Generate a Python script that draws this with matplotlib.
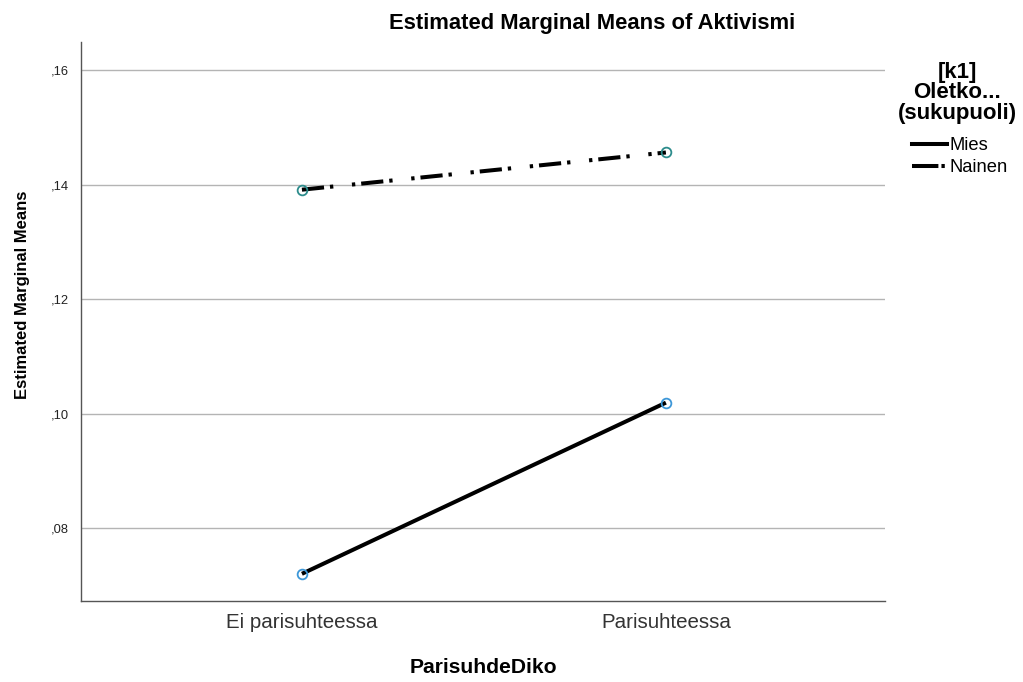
#!/usr/bin/env python3
# Estimated marginal means plot (SPSS style profile plot)
import matplotlib
matplotlib.use('Agg')
import matplotlib.pyplot as plt
from matplotlib.lines import Line2D
from matplotlib.ticker import FuncFormatter

categories = ['Ei parisuhteessa', 'Parisuhteessa']
groups = ['Mies', 'Nainen']
mies = [0.0720, 0.1019]
nainen = [0.1391, 0.1456]
yticks = [0.08, 0.10, 0.12, 0.14, 0.16]
legend_title = '[k1]\nOletko...\n(sukupuoli)'

plt.rcParams['font.family'] = ['Liberation Sans', 'DejaVu Sans']
plt.rcParams['lines.scale_dashes'] = False

fig = plt.figure(figsize=(10.23, 6.82), dpi=100)
ax = fig.add_axes([81 / 1023, 1 - 601 / 682, 804 / 1023, 559 / 682])

x = list(range(len(categories)))
lw = 2.9
nainen_dash = (0, (16, 4.3, 2.4, 13.5, 2.4, 4.3))

ax.plot(x, mies, color='black', lw=lw, solid_capstyle='butt', zorder=3)
ax.plot(x, nainen, color='black', lw=lw, linestyle=nainen_dash,
        dash_capstyle='butt', zorder=3)
ax.plot(x, mies, linestyle='none', marker='o', ms=7, mfc='none',
        mec='#3c97d8', mew=1.3, zorder=4)
ax.plot(x, nainen, linestyle='none', marker='o', ms=7, mfc='none',
        mec='#2c8c8c', mew=1.3, zorder=4)

ax.set_xlim(-0.607, 1.602)
ax.set_ylim(0.06725, 0.1649)
ax.set_xticks(x)
ax.set_xticklabels(categories, fontsize=14.8, color='#333333')
ax.set_yticks(yticks)
ax.yaxis.set_major_formatter(FuncFormatter(lambda v, p: ('%.2f' % v).replace('0.', ',')))
ax.tick_params(axis='y', labelsize=9.3, length=0, pad=9, colors='#222222')
ax.tick_params(axis='x', length=0, pad=9)
ax.grid(axis='y', color='#b4b4b4', lw=1)
ax.set_axisbelow(True)
for side in ['top', 'right']:
    ax.spines[side].set_visible(False)
for side in ['left', 'bottom']:
    ax.spines[side].set_color('#555555')
    ax.spines[side].set_linewidth(1)

ax.set_xlabel('ParisuhdeDiko', fontsize=15.2, fontweight='bold', labelpad=18.5)
ax.set_ylabel('Estimated Marginal Means', fontsize=12, fontweight='bold')
ax.yaxis.set_label_coords(-0.064, 0.547)
fig.text(592 / 1023, 1 - 23 / 682, 'Estimated Marginal Means of Aktivismi',
         ha='center', va='center', fontsize=15.8, fontweight='bold')

# Legend: title drawn separately so its spacing can follow the reference
fig.text(957 / 1023, 1 - 93 / 682, legend_title, ha='center', va='center',
         multialignment='center', fontsize=16, fontweight='bold', linespacing=0.95)
handles = [Line2D([], [], color='black', lw=lw),
           Line2D([], [], color='black', lw=lw, linestyle=(0, (19, 2.2, 2.4, 20)))]
leg = fig.legend(handles, groups, loc='upper left',
                 bbox_to_anchor=(912 / 1023, 1 - 137 / 682),
                 frameon=False, fontsize=13.2, handlelength=1.9, handletextpad=0.15,
                 labelspacing=0.3, borderpad=0, borderaxespad=0)

plt.savefig('out.png', dpi=100)
plt.close()
